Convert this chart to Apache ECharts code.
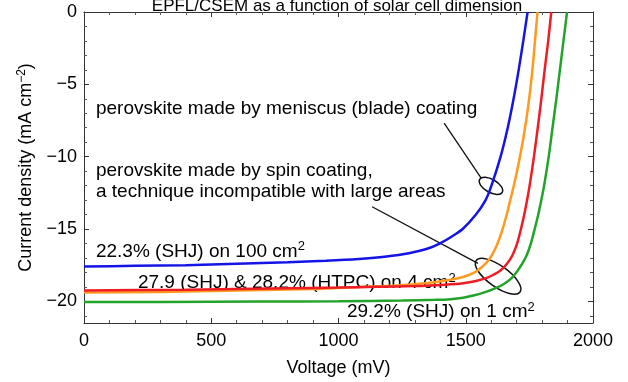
<!DOCTYPE html>
<html><head><meta charset="utf-8">
<script src="https://cdn.jsdelivr.net/npm/echarts/dist/echarts.min.js"></script>
<style>html,body{margin:0;padding:0;background:#fff}#c{width:628px;height:382px}</style>
</head><body><div id="c"></div>
<script>
// ---- axis ticks ----
const xTicks = [0, 500, 1000, 1500, 2000];
const yMajor = [0, -5, -10, -15, -20];
const yMinor = [-1, -2, -3, -4, -6, -7, -8, -9, -11, -12, -13, -14, -16, -17, -18, -19, -21];

// ---- series (Voltage mV, Current density mA/cm2) ----
const blueV = [0, 200, 400, 600, 800, 950, 1080, 1163, 1242, 1320, 1360, 1399, 1447, 1488, 1540, 1578, 1601, 1637, 1665, 1688, 1708, 1726, 1743];
const blueJ = [-17.6, -17.55, -17.5, -17.4, -17.3, -17.2, -17.08, -16.95, -16.78, -16.5, -16.3, -16.0, -15.5, -15.0, -14.0, -13.0, -12.0, -10.0, -8.0, -6.0, -4.0, -2.0, 0];

const orangeV = [0, 300, 600, 900, 1100, 1230, 1340, 1410, 1470, 1510, 1544, 1578, 1603, 1625, 1645, 1661, 1675, 1689, 1713, 1733, 1749, 1762, 1772, 1782];
const orangeJ = [-19.4, -19.35, -19.25, -19.15, -19.0, -18.9, -18.75, -18.6, -18.4, -18.2, -17.9, -17.4, -16.8, -16.0, -15.0, -14.0, -13.0, -12.0, -10.0, -8.0, -6.0, -4.0, -2.0, 0];

const redV = [0, 400, 800, 1000, 1150, 1300, 1420, 1490, 1540, 1580, 1605, 1634, 1662, 1684, 1702, 1717, 1730, 1741, 1751, 1768, 1783, 1797, 1810, 1824, 1836];
const redJ = [-19.25, -19.2, -19.1, -19.05, -19.0, -18.95, -18.85, -18.75, -18.6, -18.4, -18.2, -17.9, -17.4, -16.8, -16.0, -15.0, -14.0, -13.0, -12.0, -10.0, -8.0, -6.0, -4.0, -2.0, 0];

const greenV = [0, 300, 700, 1000, 1250, 1380, 1440, 1490, 1530, 1570, 1615, 1650, 1680, 1703, 1722, 1740, 1756, 1771, 1785, 1797, 1808, 1826, 1841, 1856, 1870, 1884, 1898];
const greenJ = [-20.05, -20.05, -20.02, -20.0, -19.95, -19.9, -19.85, -19.75, -19.6, -19.4, -19.1, -18.8, -18.4, -17.9, -17.4, -16.8, -16.0, -15.0, -14.0, -13.0, -12.0, -10.0, -8.0, -6.0, -4.0, -2.0, 0];

// ---- annotations (anchored in data coordinates) ----
const labelTexts = [
  '{n|perovskite made by meniscus (blade) coating}',
  '{n|perovskite made by spin coating,}',
  '{n|a technique incompatible with large areas}',
  '{n|22.3% (SHJ) on 100 cm}{s|2}',
  '{n|27.9 (SHJ) & 28.2% (HTPC) on 4 cm}{s|2}',
  '{n|29.2% (SHJ) on 1 cm}{s|2}'
];
const labelAnchors = [[47, -6.66], [47, -10.99], [47, -12.43], [47, -16.55], [212, -18.7], [1033, -20.74]];
const pointerLines = [[[1415, -7.69], [1560, -11.47]], [[1132, -13.46], [1548, -17.38]]];
const ellipseCenters = [[1599, -12.02], [1627, -18.27]];

const zip = (a, b) => a.map((v, i) => [v, b[i]]);
const fontFam = '"Liberation Sans", Arial, sans-serif';
const minus = v => String(v).replace('-', '\u2212');

const chart = echarts.init(document.getElementById('c'), null, {renderer: 'canvas'});

function xAx(pos, showLabel) {
  return {
    type: 'value', position: pos, min: 0, max: 2000, interval: 500,
    axisLine: {show: true, onZero: false, lineStyle: {color: '#333', width: 1}},
    axisTick: {show: true, inside: true, length: 5, lineStyle: {color: '#333'}},
    minorTick: {show: true, splitNumber: 5, length: 3, lineStyle: {color: '#555'}},
    splitLine: {show: false},
    axisLabel: {show: showLabel, fontSize: 18, color: '#000', fontFamily: fontFam, margin: 9, formatter: v => String(v)},
    name: showLabel ? 'Voltage (mV)' : '', nameLocation: 'middle', nameGap: 36,
    nameTextStyle: {fontSize: 18, color: '#000', fontFamily: fontFam}
  };
}
function yAx(pos, major, showLine, showLabel) {
  const o = {
    type: 'value', position: pos, min: -21.5, max: 0,
    axisLine: {show: showLine, onZero: false, lineStyle: {color: '#333', width: 1}},
    axisTick: {show: true, inside: true, length: major ? 5 : 3, customValues: major ? yMajor : yMinor, lineStyle: {color: major ? '#333' : '#555'}},
    splitLine: {show: false},
    axisLabel: {show: showLabel, customValues: major ? yMajor : yMinor, fontSize: 18, color: '#000', fontFamily: fontFam, margin: 7, formatter: minus}
  };
  if (showLabel) {
    o.name = '{a|Current density (mA cm}{s|\u22122}{a|)}';
    o.nameLocation = 'middle';
    o.nameGap = 44;
    o.nameTextStyle = {rich: {
      a: {fontSize: 18, color: '#000', fontFamily: fontFam, lineHeight: 20},
      s: {fontSize: 12, color: '#000', fontFamily: fontFam, verticalAlign: 'top', lineHeight: 20, padding: [0, 0, 8, 0]}
    }};
  }
  return o;
}

function line(name, color, V, J) {
  return {
    type: 'line', name: name, xAxisIndex: 0, yAxisIndex: 0,
    data: zip(V, J), showSymbol: false, smooth: 0.25,
    lineStyle: {color: color, width: 2.5}, itemStyle: {color: color}, clip: true
  };
}

chart.setOption({
  animation: false,
  backgroundColor: '#fff',
  grid: {left: 84, right: 35, top: 12, bottom: 57},
  xAxis: [xAx('bottom', true), xAx('top', false)],
  yAxis: [yAx('left', true, true, true), yAx('left', false, false, false), yAx('right', true, true, false), yAx('right', false, false, false)],
  series: [
    line('100 cm2', '#1414e6', blueV, blueJ),
    line('4 cm2 HTPC', '#ff9a1f', orangeV, orangeJ),
    line('4 cm2 SHJ', '#ee1c24', redV, redJ),
    line('1 cm2', '#22a32a', greenV, greenJ)
  ]
});

const px = p => chart.convertToPixel({xAxisIndex: 0, yAxisIndex: 0}, p);
const rich = {
  n: {fontSize: 19, fill: '#000', fontFamily: fontFam, lineHeight: 22},
  s: {fontSize: 13, fill: '#000', fontFamily: fontFam, verticalAlign: 'top', lineHeight: 22, padding: [0, 0, 9, 0]}
};
const graphics = [];
graphics.push({
  type: 'text', x: 337, y: 15,
  style: {text: 'EPFL/CSEM as a function of solar cell dimension', font: '17px ' + fontFam, fill: '#000', align: 'center', verticalAlign: 'bottom'}
});
labelTexts.forEach((t, i) => {
  const p = px(labelAnchors[i]);
  graphics.push({type: 'text', x: p[0], y: p[1], style: {text: t, rich: rich, align: 'left', verticalAlign: 'middle', fill: '#000', font: '19px ' + fontFam}});
});
pointerLines.forEach(l => {
  const a = px(l[0]), b = px(l[1]);
  graphics.push({type: 'line', shape: {x1: a[0], y1: a[1], x2: b[0], y2: b[1]}, style: {stroke: '#111', lineWidth: 1.3}});
});
const ellipseSize = [[13, 6.5, -0.52], [27, 10.5, -0.62]];
ellipseCenters.forEach((c, i) => {
  const p = px(c);
  graphics.push({type: 'ellipse', x: p[0], y: p[1], rotation: ellipseSize[i][2],
    shape: {cx: 0, cy: 0, rx: ellipseSize[i][0], ry: ellipseSize[i][1]},
    style: {fill: 'none', stroke: '#111', lineWidth: 1.5}});
});
chart.setOption({graphic: graphics});
</script>
</body></html>
